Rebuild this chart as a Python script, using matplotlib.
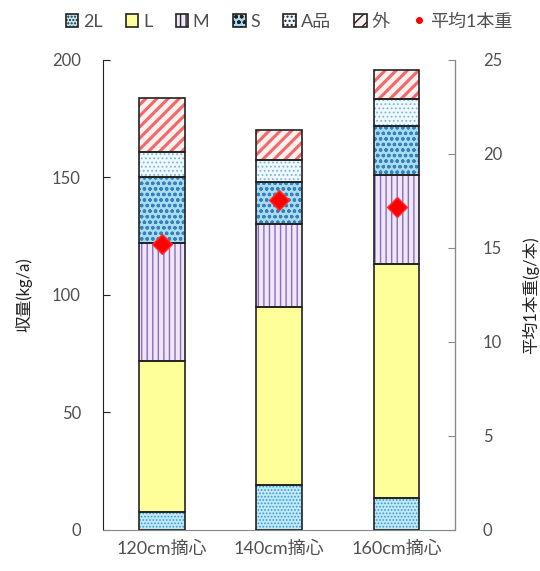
import numpy as np
import matplotlib as mpl
import matplotlib.pyplot as plt
from matplotlib.patches import Patch
from matplotlib.lines import Line2D

plt.rcParams['font.family'] = ['Lato', 'Noto Sans CJK JP', 'DejaVu Sans']

categories = ['120cm摘心', '140cm摘心', '160cm摘心']
grades = ['2L', 'L', 'M', 'S', 'A品', '外']
yield_2L = [7.7, 19.0, 13.6]
yield_L = [64.3, 76.0, 99.4]
yield_M = [50.0, 35.0, 38.0]
yield_S = [28.0, 18.0, 21.0]
yield_A = [11.0, 9.5, 11.4]
yield_out = [23.0, 12.5, 12.3]
avg_weight = [15.2, 17.55, 17.2]

# face colour, hatch pattern, hatch colour, hatch line width
styles = [
    ('#bfe8f7', '.....', '#3a9ad0', 0.8),
    ('#ffff99', '', '#ffff99', 0.8),
    ('#efe6f7', '|||', '#8a6cc0', 1.0),
    ('#a8dcf2', 'ooo', '#3a7fb8', 0.9),
    ('#eef8fd', '....', '#7fb6dc', 0.8),
    ('#fff0f0', '///', '#f06868', 2.2),
]
series = [yield_2L, yield_L, yield_M, yield_S, yield_A, yield_out]

fig = plt.figure(figsize=(5.4, 5.71), dpi=100)
ax = fig.add_axes([0.191, 0.072, 0.652, 0.823])
ax2 = ax.twinx()

x = np.arange(len(categories))
width = 0.39
bottom = np.zeros(len(categories))
for vals, (fc, hatch, hc, hlw) in zip(series, styles):
    vals = np.array(vals)
    with mpl.rc_context({'hatch.linewidth': hlw}):
        ax.bar(x, vals, width, bottom=bottom, color=fc, hatch=hatch,
               edgecolor=hc, linewidth=0, zorder=2)
    ax.bar(x, vals, width, bottom=bottom, fill=False,
           edgecolor='#222222', linewidth=1.2, zorder=3)
    bottom += vals

ax2.plot(x, avg_weight, linestyle='none', marker='D', markersize=10,
         color='#ff0000', markeredgecolor='#ff3030', zorder=5)

ax.set_xlim(-0.5, 2.5)
ax.set_ylim(0, 200)
ax2.set_ylim(0, 25)
ax.set_yticks([0, 50, 100, 150, 200])
ax2.set_yticks([0, 5, 10, 15, 20, 25])
ax.set_xticks(x)
ax.set_xticklabels(categories)

txt = '#505050'
ax.tick_params(axis='y', direction='in', length=5, colors='#222222',
               labelcolor=txt, labelsize=12, pad=16)
ax.tick_params(axis='x', length=0, labelcolor=txt, labelsize=13, pad=8)
ax2.tick_params(axis='y', direction='in', length=5, colors='#888888',
                labelcolor=txt, labelsize=12, pad=20)

for a in (ax, ax2):
    a.spines['top'].set_visible(False)
ax.spines['left'].set_color('#222222')
ax.spines['bottom'].set_color('#888888')
ax2.spines['right'].set_color('#888888')
ax2.spines['left'].set_visible(False)
ax2.spines['bottom'].set_visible(False)
ax.set_zorder(ax2.get_zorder() - 1)
ax2.patch.set_visible(False)

ax.set_ylabel('収量(kg/a)', fontsize=12, color='#222222', labelpad=14)
ax2.set_ylabel('平均1本重(g/本)', fontsize=12, color='#222222', labelpad=14)

handles = []
for name, (fc, hatch, hc, hlw) in zip(grades, styles):
    handles.append(Patch(facecolor=fc, hatch=hatch, edgecolor='#222222',
                         linewidth=1.2, label=name))
handles.append(Line2D([], [], linestyle='none', marker='o', markersize=4,
                      color='#ff0000', label='平均1本重'))
fig.legend(handles=handles, loc='center', bbox_to_anchor=(0.535, 0.962),
           ncol=7, frameon=False, fontsize=13, handlelength=0.7,
           handleheight=0.7, handletextpad=0.25, columnspacing=1.3,
           labelcolor=txt)

fig.savefig('out.png', dpi=100)
